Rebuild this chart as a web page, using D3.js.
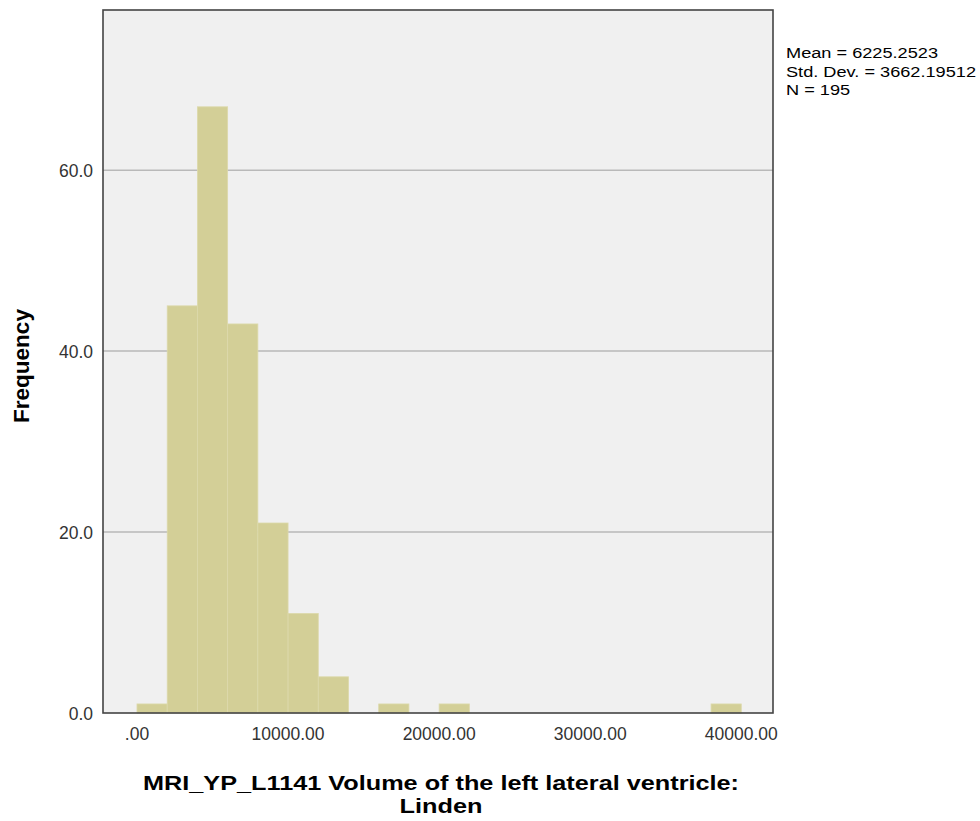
<!DOCTYPE html>
<html>
<head>
<meta charset="utf-8">
<script src="https://cdn.jsdelivr.net/npm/d3@7"></script>
<style>
  body { margin: 0; background: #ffffff; }
  svg { font-family: "Liberation Sans", Arial, sans-serif; }
</style>
</head>
<body>
<svg id="chart"></svg>
<script>
const width = 980
const height = 821

// histogram bins: [start, end) and their frequencies
const binStarts = [0, 2000, 4000, 6000, 8000, 10000, 12000, 14000, 16000, 18000,
                   20000, 22000, 24000, 26000, 28000, 30000, 32000, 34000, 36000, 38000]
const binWidth = 2000
const counts = [1, 45, 67, 43, 21, 11, 4, 0, 1, 0,
                1, 0, 0, 0, 0, 0, 0, 0, 0, 1]

const xTicks = [0, 10000, 20000, 30000, 40000]
const yTicks = [0, 20, 40, 60]
const statsLines = ["Mean = 6225.2523", "Std. Dev. = 3662.19512", "N = 195"]
const xTitle = ["MRI_YP_L1141 Volume of the left lateral ventricle:", "Linden"]
const yTitle = "Frequency"

const plot = { left: 103, top: 10, right: 773, bottom: 713 }

const x = d3.scaleLinear()
            .domain([-2250, 42100])
            .range([plot.left, plot.right])

const y = d3.scaleLinear()
            .domain([0, 77.7])
            .range([plot.bottom, plot.top])

const svg = d3.select("#chart")
              .attr("width", width)
              .attr("height", height)

// plot background
svg.append("rect")
   .attr("x", plot.left)
   .attr("y", plot.top)
   .attr("width", plot.right - plot.left)
   .attr("height", plot.bottom - plot.top)
   .attr("fill", "#f0f0f0")

// gridlines
svg.append("g")
   .selectAll("line")
   .data(yTicks.filter(d => d > 0))
   .join("line")
   .attr("x1", plot.left)
   .attr("x2", plot.right)
   .attr("y1", d => y(d))
   .attr("y2", d => y(d))
   .attr("stroke", "#b9b9b9")
   .attr("stroke-width", 1.5)

// bars
const bins = binStarts.map((s, i) => ({ x0: s, x1: s + binWidth, n: counts[i] }))
                      .filter(d => d.n > 0)

svg.append("g")
   .selectAll("rect")
   .data(bins)
   .join("rect")
   .attr("x", d => x(d.x0))
   .attr("y", d => y(d.n))
   .attr("width", d => x(d.x1) - x(d.x0))
   .attr("height", d => y(0) - y(d.n))
   .attr("fill", "#d3cf97")
   .attr("stroke", "#dcd9ab")
   .attr("stroke-width", 0.8)

// frame
svg.append("rect")
   .attr("x", plot.left)
   .attr("y", plot.top)
   .attr("width", plot.right - plot.left)
   .attr("height", plot.bottom - plot.top)
   .attr("fill", "none")
   .attr("stroke", "#444444")
   .attr("stroke-width", 1.6)

// y axis labels
svg.append("g")
   .selectAll("text")
   .data(yTicks)
   .join("text")
   .attr("x", 93)
   .attr("y", d => y(d) + 7)
   .attr("text-anchor", "end")
   .attr("font-size", 17.5)
   .attr("fill", "#333333")
   .text(d => d3.format(".1f")(d))

// x axis labels
const fmtX = d => d === 0 ? ".00" : d3.format(".2f")(d)
svg.append("g")
   .selectAll("text")
   .data(xTicks)
   .join("text")
   .attr("x", d => x(d))
   .attr("y", 740)
   .attr("text-anchor", "middle")
   .attr("font-size", 17.5)
   .attr("fill", "#333333")
   .text(fmtX)

// axis titles
svg.append("text")
   .attr("transform", "translate(29," + 366 + ") rotate(-90)")
   .attr("text-anchor", "middle")
   .attr("font-size", 22.5)
   .attr("font-weight", "bold")
   .attr("fill", "#000")
   .text(yTitle)

const titles = svg.append("g")
   .selectAll("text")
   .data(xTitle)
   .join("text")
   .attr("x", 441)
   .attr("y", (d, i) => 790 + i * 23)
   .attr("text-anchor", "middle")
   .attr("font-size", 20)
   .attr("font-weight", "bold")
   .attr("fill", "#000")
   .text(d => d)

// widen the title so line one spans the same width as the source
const titleNat = titles.nodes().map(n => n.getComputedTextLength())
const titleStretch = 596 / d3.max(titleNat)
titles.attr("textLength", (d, i) => titleNat[i] * titleStretch)
      .attr("lengthAdjust", "spacingAndGlyphs")

// stats box, stretched a little sideways like the source image
const stats = svg.append("g")
   .selectAll("text")
   .data(statsLines)
   .join("text")
   .attr("x", 786)
   .attr("y", (d, i) => 58 + i * 18.5)
   .attr("font-size", 15.5)
   .attr("fill", "#000")
   .text(d => d)

const natural = stats.nodes().map(n => n.getComputedTextLength())
const stretch = 190 / d3.max(natural)
stats.attr("textLength", (d, i) => natural[i] * stretch)
     .attr("lengthAdjust", "spacingAndGlyphs")
</script>
</body>
</html>
